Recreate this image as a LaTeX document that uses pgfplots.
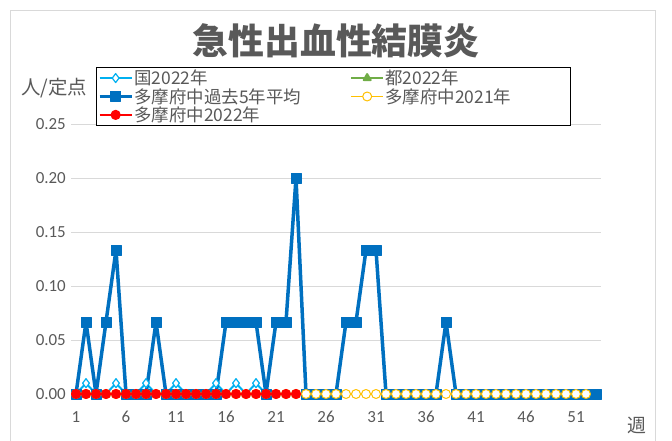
\documentclass[border=0pt]{standalone}
\usepackage{pgfplots}
\pgfplotsset{compat=1.18}
\usepackage{fontspec}
\setmainfont{Carlito}
\newfontfamily\jp{Noto Sans CJK JP}
\definecolor{txt}{HTML}{595959}
\definecolor{cyanl}{HTML}{00B0F0}
\definecolor{grn}{HTML}{70AD47}
\definecolor{blu}{HTML}{0070C0}
\definecolor{yel}{HTML}{FFC000}
\definecolor{redc}{HTML}{FF0000}
\definecolor{gridc}{HTML}{D9D9D9}
\begin{document}
\begin{tikzpicture}[x=1bp,y=1bp]
\path[use as bounding box] (0,0) rectangle (672,441);
\draw[gridc, line width=0.75bp] (10,-10) -- (10,431) -- (655,431) -- (655,-10);
\node[text=txt, font=\jp\bfseries\fontsize{36}{40}\selectfont] at (336,400) {急性出血性結膜炎};
\node[text=txt, font=\jp\fontsize{19.5}{22}\selectfont] at (54,353) {人/定点};
\node[text=txt, font=\jp\fontsize{19}{22}\selectfont] at (637,16) {週};
\begin{axis}[
  at={(71bp,47bp)}, anchor=south west,
  scale only axis, width=530bp, height=270bp,
  xmin=0.5, xmax=53.5, ymin=0, ymax=0.25,
  clip=false,
  axis line style={draw=none},
  major tick length=0pt,
  xtick={1,6,...,51},
  ytick={0,0.05,...,0.26},
  ymajorgrids, grid style={gridc, line width=0.75bp},
  /pgf/number format/assume math mode=true,
  yticklabel={\pgfmathprintnumber[fixed,fixed zerofill,precision=2]{\tick}},
  ticklabel style={text=txt, font=\fontsize{17}{20}\selectfont, inner sep=0pt},
  yticklabel style={anchor=east, xshift=-5bp},
  xticklabel style={anchor=north, yshift=-17bp},
  every axis plot/.append style={line join=round},
  legend columns=2,
  legend cell align=left,
  legend style={at={(0.0472,1.2111)}, anchor=north west, draw=black, line width=0.75bp,
    font=\jp\fontsize{17.5}{19}\selectfont, text=txt, inner sep=1.5bp, row sep=0bp,
    /tikz/column 2/.style={column sep=48bp},
    nodes={inner sep=1.1bp}},
  legend image code/.code={\draw[mark repeat=2,mark phase=2] plot coordinates {(0bp,0bp)(16bp,0bp)(32bp,0bp)};},
]
\addplot[cyanl, line width=2bp, mark=diamond*, mark size=4.5bp, mark options={fill=white, draw=cyanl, line width=1.2bp}]
coordinates {(1,0)(2,0.01)(3,0)(4,0)(5,0.01)(6,0)(7,0)(8,0.01)(9,0)(10,0)(11,0.01)(12,0)(13,0)(14,0)(15,0.01)(16,0)(17,0.01)(18,0)(19,0.01)(20,0)(21,0)(22,0)(23,0)};
\addlegendentry{国2022年}
\addplot[grn, line width=2bp, mark=triangle*, mark size=4bp, mark options={fill=grn, draw=grn}]
coordinates {(1,0)(2,0)(3,0)(4,0)(5,0)(6,0)(7,0)(8,0)(9,0)(10,0)(11,0)(12,0)(13,0)(14,0)(15,0)(16,0)(17,0)(18,0)(19,0)(20,0)(21,0)(22,0)(23,0)};
\addlegendentry{\makebox[182bp][l]{都2022年}}
\addplot[blu, line width=3.5bp, mark=square*, mark size=5bp, mark options={fill=blu, draw=blu, line width=0.5bp}]
coordinates {(1,0)(2,0.0667)(3,0)(4,0.0667)(5,0.1333)(6,0)(7,0)(8,0)(9,0.0667)(10,0)(11,0)(12,0)(13,0)(14,0)(15,0)(16,0.0667)(17,0.0667)(18,0.0667)(19,0.0667)(20,0)(21,0.0667)(22,0.0667)(23,0.2)(24,0)(25,0)(26,0)(27,0)(28,0.0667)(29,0.0667)(30,0.1333)(31,0.1333)(32,0)(33,0)(34,0)(35,0)(36,0)(37,0)(38,0.0667)(39,0)(40,0)(41,0)(42,0)(43,0)(44,0)(45,0)(46,0)(47,0)(48,0)(49,0)(50,0)(51,0)(52,0)(53,0)};
\addlegendentry{多摩府中過去5年平均}
\addplot[yel, line width=1.5bp, mark=*, mark size=4.5bp, mark options={fill=white, draw=yel, line width=1bp}]
coordinates {(1,0)(2,0)(3,0)(4,0)(5,0)(6,0)(7,0)(8,0)(9,0)(10,0)(11,0)(12,0)(13,0)(14,0)(15,0)(16,0)(17,0)(18,0)(19,0)(20,0)(21,0)(22,0)(23,0)(24,0)(25,0)(26,0)(27,0)(28,0)(29,0)(30,0)(31,0)(32,0)(33,0)(34,0)(35,0)(36,0)(37,0)(38,0)(39,0)(40,0)(41,0)(42,0)(43,0)(44,0)(45,0)(46,0)(47,0)(48,0)(49,0)(50,0)(51,0)(52,0)};
\addlegendentry{多摩府中2021年}
\addplot[redc, line width=2.5bp, mark=*, mark size=3.8bp, mark options={fill=redc, draw=redc}]
coordinates {(1,0)(2,0)(3,0)(4,0)(5,0)(6,0)(7,0)(8,0)(9,0)(10,0)(11,0)(12,0)(13,0)(14,0)(15,0)(16,0)(17,0)(18,0)(19,0)(20,0)(21,0)(22,0)(23,0)};
\addlegendentry{多摩府中2022年}
\end{axis}
\end{tikzpicture}
\end{document}
